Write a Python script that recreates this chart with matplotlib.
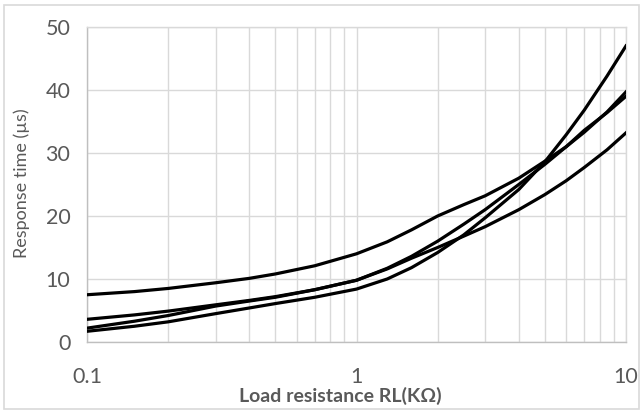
import matplotlib
matplotlib.use("Agg")
import matplotlib.pyplot as plt
from matplotlib.patches import Rectangle
from matplotlib.ticker import LogLocator, FixedLocator, NullFormatter

plt.rcParams['font.family'] = ['Lato', 'DejaVu Sans']

# load resistance (kOhm) and response times (us)
rl = [0.1, 0.15, 0.2, 0.3, 0.4, 0.5, 0.7, 1, 1.3, 1.6, 2, 2.5, 3, 4, 5, 6, 7, 8.5, 10]
curve_a = [7.5, 8.0, 8.5, 9.4, 10.1, 10.8, 12.1, 14.0, 15.9, 17.8, 20.0, 21.8, 23.2, 26.0, 28.7, 31.0, 33.3, 36.5, 39.7]
curve_b = [3.6, 4.3, 4.9, 5.9, 6.6, 7.2, 8.3, 9.8, 11.6, 13.3, 15.0, 16.8, 18.3, 21.0, 23.4, 25.6, 27.7, 30.5, 33.2]
curve_c = [2.2, 3.3, 4.2, 5.7, 6.5, 7.1, 8.3, 9.8, 11.7, 13.6, 16.0, 18.7, 21.0, 25.0, 28.2, 31.0, 33.6, 36.4, 39.0]
curve_d = [1.7, 2.5, 3.2, 4.5, 5.4, 6.1, 7.1, 8.4, 10.0, 11.8, 14.2, 17.0, 19.7, 24.2, 28.6, 32.9, 36.8, 42.2, 47.0]
x_ticks = [0.1, 1, 10]
x_labels = ['0.1', '1', '10']
y_ticks = [0, 10, 20, 30, 40, 50]

grid_col = '#d9d9d9'
text_col = '#595959'

fig = plt.figure(figsize=(6.42, 4.12), dpi=100)
ax = fig.add_axes([87 / 642, 70 / 412, 539 / 642, 315 / 412])

for ys in (curve_a, curve_b, curve_c, curve_d):
    ax.plot(rl, ys, color='black', lw=2.3, solid_joinstyle='round', zorder=3)

ax.set_xscale('log')
ax.set_xlim(0.1, 10)
ax.set_ylim(0, 50)
ax.xaxis.set_major_locator(FixedLocator(x_ticks))
ax.set_xticklabels(x_labels)
ax.xaxis.set_minor_locator(LogLocator(base=10, subs=range(2, 10)))
ax.xaxis.set_minor_formatter(NullFormatter())
ax.set_yticks(y_ticks)

ax.grid(True, which='both', axis='x', color=grid_col, lw=1)
ax.grid(True, which='major', axis='y', color=grid_col, lw=1)
ax.set_axisbelow(True)
for s in ax.spines.values():
    s.set_color(grid_col)
    s.set_linewidth(1)
ax.spines['left'].set_color('#bfbfbf')
ax.spines['bottom'].set_color('#bfbfbf')

ax.tick_params(which='both', length=0)
ax.tick_params(axis='y', pad=12, labelsize=15.5, labelcolor=text_col)
ax.tick_params(axis='x', pad=18, labelsize=15.5, labelcolor=text_col)

fig.text(340 / 642, 1 - 396 / 412, 'Load resistance RL(KΩ)', ha='center', va='center',
         fontsize=14, fontweight='bold', color=text_col)
fig.text(22 / 642, 1 - 183 / 412, 'Response time (µs)', ha='center', va='center',
         rotation=90, fontsize=13, color=text_col)

# light frame around the whole chart
fig.patches.append(Rectangle((4 / 642, 3 / 412), 635 / 642, 404 / 412, transform=fig.transFigure,
                             fill=False, edgecolor=grid_col, lw=1.2))

fig.savefig('out.png', dpi=100)
